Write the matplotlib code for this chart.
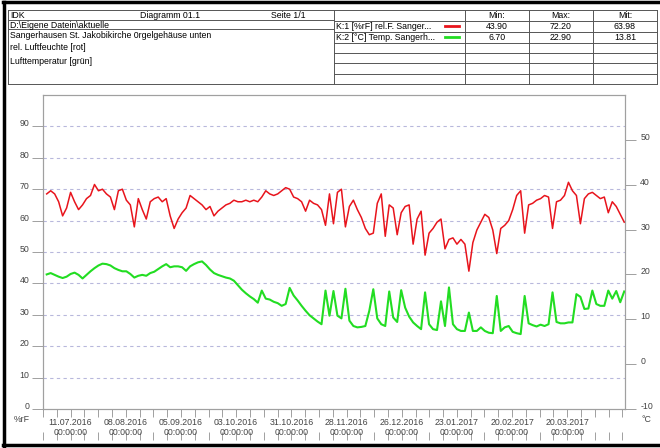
import matplotlib
matplotlib.use('Agg')
import matplotlib.pyplot as plt
import matplotlib.transforms as mtransforms
import pandas as pd

plt.rcParams['font.family'] = ['Liberation Sans', 'DejaVu Sans']
plt.rcParams['axes.unicode_minus'] = False

# rel. Luftfeuchte [%rF] on a ~2 day grid
rh = [68.5, 69.5, 68.5, 66, 61.5, 64, 69, 66, 63.5, 65,
      67, 68, 71.5, 69.5, 70, 68.5, 67.5, 63.5, 69.5, 70,
      66.5, 65, 58, 67, 63.5, 60.5, 66, 67, 67.5, 66,
      67, 61.5, 57.5, 60.5, 62.5, 64, 68, 67, 66, 65,
      63.5, 64.5, 61.5, 63, 64, 65, 65.5, 66.5, 66, 66,
      66.5, 66, 66.5, 66, 67.5, 69.5, 68.5, 68, 68.5, 69.5,
      70.5, 70, 67.5, 67, 66, 63, 66.5, 65.5, 65, 63.5,
      58.5, 68.5, 59, 69, 70, 58, 64.5, 66.5, 63.5, 61,
      57.5, 55.5, 56, 65.5, 68.5, 55, 65, 64, 55.5, 62.5,
      64.5, 65, 52.5, 60.5, 63, 49, 56, 57.5, 59.5, 60.5,
      51, 54, 54.5, 52.5, 54, 52.5, 43.9, 53, 57, 59.5,
      62, 61, 57, 49.5, 57.5, 58.5, 60, 63.5, 68, 69.5,
      56, 65, 65.5, 66.5, 67, 68, 67.5, 57.5, 66, 66.5,
      68, 72.2, 69.5, 68, 59, 67, 68.5, 69, 68, 67,
      67.5, 62.5, 66, 64.5, 62, 59.5]

# Lufttemperatur [°C], same grid
temp = [20.0, 20.3, 19.9, 19.5, 19.2, 19.5, 20.1, 20.4, 19.9, 19.1,
        19.9, 20.7, 21.4, 22.0, 22.4, 22.3, 22.0, 21.4, 21.0, 20.7,
        20.7, 20.1, 19.3, 19.7, 19.9, 19.7, 20.3, 20.6, 21.2, 21.8,
        22.3, 21.6, 21.8, 21.8, 21.6, 20.8, 21.8, 22.3, 22.7, 22.9,
        22.1, 21.1, 20.3, 19.9, 19.6, 19.3, 19.1, 18.6, 17.6, 16.6,
        15.8, 15.1, 14.5, 13.7, 16.4, 14.6, 14.4, 13.9, 13.6, 13.0,
        13.4, 17.0, 15.3, 14.2, 13.0, 11.9, 10.9, 10.2, 9.5, 8.9,
        16.4, 10.8, 16.3, 10.8, 10.2, 16.8, 9.7, 8.5, 8.2, 8.3,
        8.5, 11.9, 16.7, 10.2, 8.9, 8.5, 16.2, 10.4, 9.4, 16.5,
        12.6, 10.6, 9.3, 8.5, 7.8, 16.0, 8.9, 7.8, 7.6, 14.0,
        8.5, 17.1, 8.9, 7.8, 7.4, 7.4, 11.5, 7.4, 7.4, 8.2,
        7.4, 7.0, 6.9, 15.2, 7.4, 8.2, 8.5, 7.2, 6.9, 6.7,
        15.2, 9.1, 8.7, 8.4, 8.8, 8.5, 8.9, 16.0, 9.4, 9.1,
        9.1, 9.3, 9.3, 15.6, 15.0, 12.3, 12.4, 16.4, 13.4, 13.0,
        13.0, 16.4, 14.6, 16.3, 13.8, 16.2]

start = pd.Timestamp('2016-06-28 21:00')
step = pd.Timedelta(hours=48.5)
dates = [start + i * step for i in range(len(rh))]

label_dates = pd.date_range('2016-07-11', '2017-03-20', freq='28D')
week_ticks = pd.date_range('2016-06-27', '2017-04-17', freq='7D')
rh_ticks = list(range(0, 100, 10))
temp_ticks = list(range(-10, 60, 10))

head_left = ['IDK', 'Diagramm 01.1', 'Seite 1/1']
path_text = 'D:\\Eigene Datein\\aktuelle'
desc_lines = ['Sangerhausen St. Jakobikirche 0rgelgehäuse unten',
              'rel. Luftfeuchte [rot]', 'Lufttemperatur [grün]']
stat_cols = ['Min:', 'Max:', 'Mit:']
channels = ['K:1 [%rF] rel.F. Sanger...', 'K:2 [°C] Temp. Sangerh...']
ch_colors = ['#e8141c', '#22dd22']
ch_min = ['43.90', '6.70']
ch_max = ['72.20', '22.90']
ch_mean = ['63.98', '13.81']

fs = 6.3
tick_col = '#444444'
spine_col = '#a0a0a0'

fig = plt.figure(figsize=(6.6, 4.48), dpi=100)

# page frame and header table, drawn in pixel coordinates
bg = fig.add_axes([0, 0, 1, 1])
bg.set_xlim(0, 660)
bg.set_ylim(448, 0)
bg.axis('off')
bg.plot([4, 4], [2, 446], color='black', lw=2.5)
bg.plot([3, 660], [2.5, 2.5], color='black', lw=2.5)
bg.plot([3, 660], [445.5, 445.5], color='black', lw=2.5)

lc = '#555555'
for y in [10, 84]:
    bg.plot([8, 657], [y, y], color=lc, lw=0.7)
for y in [20.5, 29.5]:
    bg.plot([8, 334], [y, y], color=lc, lw=0.7)
for y in [21, 32, 43, 53, 63, 74]:
    bg.plot([334, 657], [y, y], color=lc, lw=0.7)
for x in [8, 334, 465, 529, 593, 657]:
    bg.plot([x, x], [10, 84], color=lc, lw=0.7)

for x, t in zip([10, 140, 271], head_left):
    bg.text(x, 15.5, t, fontsize=fs, va='center')
bg.text(10, 25, path_text, fontsize=fs, va='center')
for y, t in zip([35, 48, 61], desc_lines):
    bg.text(10, y, t, fontsize=fs, va='center')

for x, t in zip([497, 561, 625], stat_cols):
    bg.text(x, 15.5, t, fontsize=fs, va='center', ha='center')
for i, name in enumerate(channels):
    y = 26.5 + 11 * i
    bg.text(336, y, name, fontsize=fs, va='center')
    bg.plot([445, 459], [y, y], color=ch_colors[i], lw=2)
    for x, v in zip([497, 561, 625], [ch_min[i], ch_max[i], ch_mean[i]]):
        bg.text(x, y, v, fontsize=fs, va='center', ha='center')

bg.text(14, 419, '%rF', fontsize=fs, va='center', color=tick_col)
bg.text(641, 420, '°C', fontsize=fs, va='center', color=tick_col)

# chart
ax = fig.add_axes([43 / 660, 39 / 448, 582 / 660, 314 / 448])
ax2 = ax.twinx()

for v in rh_ticks[1:]:
    ax.axhline(v, color='#b8b8dc', lw=0.8, ls=(0, (3, 3)), zorder=1)

ax.plot(dates, rh, color=ch_colors[0], lw=1.1, zorder=3)
ax2.plot(dates, temp, color=ch_colors[1], lw=1.5, zorder=3)

ax.set_ylim(0, 100)
ax2.set_ylim(-10, 60)
ax.set_yticks(rh_ticks)
ax2.set_yticks(temp_ticks)
ax.set_xlim(pd.Timestamp('2016-06-28 09:00'), pd.Timestamp('2017-04-18 07:00'))
ax.set_xticks(label_dates)
ax.set_xticklabels([d.strftime('%d.%m.%Y') + '\n00:00:00' for d in label_dates])
ax.set_xticks(week_ticks, minor=True)

for a in (ax, ax2):
    for s in a.spines.values():
        s.set_color(spine_col)
        s.set_linewidth(0.8)

ax.tick_params(axis='y', length=8, width=0.7, color=spine_col, pad=2,
               labelsize=fs, labelcolor=tick_col)
ax2.tick_params(axis='y', length=8, width=0.7, color=spine_col, pad=3,
                labelsize=fs, labelcolor=tick_col)
ax.tick_params(axis='x', which='major', length=6, width=0.7, color=spine_col,
               pad=0.5, labelsize=fs, labelcolor=tick_col)
ax.tick_params(axis='x', which='minor', length=6, width=0.7, color=spine_col)

# value labels sit a little above their tick in the original
up = mtransforms.ScaledTranslation(0, 2.5 / 72, fig.dpi_scale_trans)
for t in ax.yaxis.get_major_ticks():
    t.label1.set_transform(t.label1.get_transform() + up)
for t in ax2.yaxis.get_major_ticks():
    t.label2.set_transform(t.label2.get_transform() + up)

# second row of week ticks below the date labels
sec = ax.secondary_xaxis(-0.1)
sec.spines['bottom'].set_visible(False)
sec.set_xticks(week_ticks)
sec.tick_params(axis='x', direction='in', length=6, width=0.7, color=spine_col,
                labelbottom=False)

fig.savefig('out.png', dpi=100)
